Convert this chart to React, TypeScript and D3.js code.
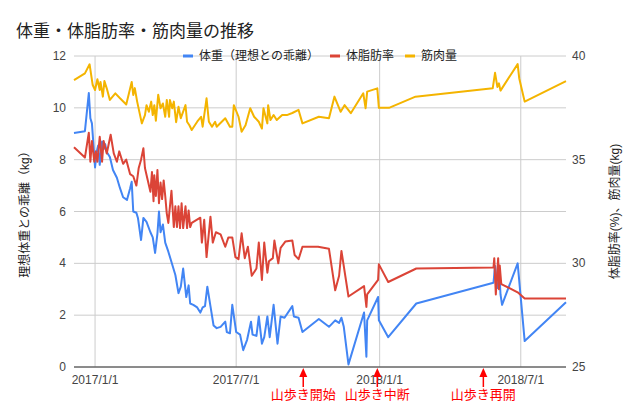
import React from "react";
import * as d3 from "d3";

const title = "体重・体脂肪率・筋肉量の推移";
const seriesNames = ["体重（理想との乖離）", "体脂肪率", "筋肉量"];
const seriesColors = ["#4285F4", "#DB4437", "#F4B400"];
const leftTicks = [0, 2, 4, 6, 8, 10, 12];
const rightLabels = [25, 30, 35, 40];
const xTickDates = ["2017-01-01", "2017-07-01", "2018-01-01", "2018-07-01"];
const xTickLabels = ["2017/1/1", "2017/7/1", "2018/1/1", "2018/7/1"];
const annotationDates = ["2017-09-25", "2017-12-29", "2018-05-14"];
const annotationLabels = ["山歩き開始", "山歩き中断", "山歩き再開"];
const domainStart = "2016-12-05";
const domainEnd = "2018-08-28";

const weightDates = [
  "2016-12-05","2016-12-19","2016-12-24","2016-12-26","2016-12-28","2017-01-01","2017-01-03","2017-01-05","2017-01-07","2017-01-10",
  "2017-01-12","2017-01-14","2017-01-16","2017-01-20","2017-01-24","2017-01-29","2017-02-02","2017-02-06","2017-02-11","2017-02-15",
  "2017-02-17","2017-02-19","2017-02-23","2017-02-25","2017-03-01","2017-03-04","2017-03-08","2017-03-13","2017-03-16","2017-03-19",
  "2017-03-22","2017-03-24","2017-03-26","2017-03-29","2017-04-01","2017-04-05","2017-04-09","2017-04-14","2017-04-18","2017-04-21",
  "2017-04-24","2017-04-28","2017-05-01","2017-05-03","2017-05-07","2017-05-12","2017-05-16","2017-05-19","2017-05-22","2017-05-25",
  "2017-05-29","2017-06-02","2017-06-06","2017-06-11","2017-06-17","2017-06-19","2017-06-23","2017-06-26","2017-07-01","2017-07-06",
  "2017-07-10","2017-07-15","2017-07-20","2017-07-22","2017-07-27","2017-07-30","2017-08-03","2017-08-06","2017-08-10","2017-08-13",
  "2017-08-18","2017-08-23","2017-08-27","2017-09-01","2017-09-11","2017-09-13","2017-09-19","2017-09-24","2017-10-15","2017-10-28",
  "2017-11-05","2017-11-10","2017-11-13","2017-11-16","2017-11-22","2017-12-12","2017-12-15","2017-12-16","2017-12-30","2017-12-31",
  "2018-01-12","2018-02-17","2018-05-27","2018-05-29","2018-06-01","2018-06-04","2018-06-05","2018-06-07","2018-06-27","2018-07-06",
  "2018-08-28"
];
const weightValues = [
  9.03,9.1,10.57,9.6,9.4,7.7,8.3,8.55,7.8,8.7,
  8.4,8.6,8.3,8.1,7.6,7.3,6.9,6.55,6.45,6.9,
  7.15,6.0,5.95,5.75,4.9,5.75,5.6,5.2,5.0,4.4,
  5.15,6.0,5.2,5.5,4.8,4.45,4.05,3.55,2.85,3.1,
  3.8,2.7,3.15,2.45,2.4,2.3,2.1,2.3,2.35,3.1,
  2.35,1.6,1.5,1.55,1.75,1.35,1.3,2.4,1.35,1.25,
  0.65,1.05,1.75,1.25,1.2,1.95,0.9,1.15,1.95,1.15,
  2.4,0.9,1.95,1.9,2.35,1.95,1.9,1.35,1.85,1.55,
  1.8,1.7,1.9,1.55,0.1,2.1,0.4,1.8,2.7,1.8,
  1.15,2.45,3.25,3.9,3.05,3.35,2.8,2.4,4.0,1.0,
  2.5
];

const fatDates = [
  "2016-12-05","2016-12-19","2016-12-24","2016-12-26","2016-12-28","2016-12-31","2017-01-02","2017-01-04","2017-01-07","2017-01-10",
  "2017-01-12","2017-01-14","2017-01-16","2017-01-21","2017-01-25","2017-01-29","2017-02-01","2017-02-06","2017-02-10","2017-02-15",
  "2017-02-19","2017-02-23","2017-02-26","2017-03-01","2017-03-04","2017-03-06","2017-03-09","2017-03-13","2017-03-15","2017-03-17",
  "2017-03-18","2017-03-20","2017-03-22","2017-03-24","2017-03-26","2017-03-28","2017-03-30","2017-04-01","2017-04-03","2017-04-05",
  "2017-04-09","2017-04-12","2017-04-14","2017-04-16","2017-04-18","2017-04-20","2017-04-22","2017-04-24","2017-04-27","2017-04-29",
  "2017-05-01","2017-05-03","2017-05-05","2017-05-16","2017-05-18","2017-05-21","2017-05-24","2017-05-29","2017-06-01","2017-06-05",
  "2017-06-11","2017-06-17","2017-06-21","2017-06-26","2017-06-30","2017-07-04","2017-07-08","2017-07-12","2017-07-16","2017-07-21",
  "2017-07-27","2017-07-30","2017-08-03","2017-08-06","2017-08-10","2017-08-12","2017-08-17","2017-08-19","2017-08-24","2017-08-27",
  "2017-09-02","2017-09-11","2017-09-14","2017-09-19","2017-09-24","2017-10-14","2017-10-28","2017-11-05","2017-11-10","2017-11-13",
  "2017-11-22","2017-12-12","2017-12-15","2017-12-16","2017-12-30","2017-12-31","2018-01-12","2018-02-17","2018-05-27","2018-05-28",
  "2018-05-30","2018-06-02","2018-06-03","2018-06-04","2018-06-06","2018-06-27","2018-07-06","2018-08-28"
];
const fatValues = [
  35.6,35.1,36.3,34.9,35.9,34.9,35.4,34.9,36.1,34.9,
  35.9,35.6,35.3,36.2,35.3,34.9,35.4,34.8,35.0,34.3,
  34.2,33.75,34.6,35.0,35.55,34.6,34.1,33.45,34.4,33.0,
  34.25,33.25,34.5,32.9,33.9,33.1,34.0,33.25,32.4,31.95,
  33.5,31.75,32.75,31.75,32.75,31.7,32.9,31.7,32.75,31.7,
  32.55,31.75,31.95,32.2,31.0,32.1,30.3,32.25,31.0,31.5,
  31.4,30.8,31.25,31.25,30.3,30.2,31.45,30.25,30.8,29.4,
  29.75,31.0,29.2,31.0,29.55,30.1,30.25,31.1,30.0,30.75,
  31.05,31.1,30.4,30.2,30.8,30.8,30.7,28.7,29.4,30.6,
  28.4,28.9,27.9,28.5,29.2,29.95,29.1,29.75,29.8,30.25,
  28.5,30.25,28.75,29.9,29.0,28.6,28.3,28.3
];

const muscleDates = [
  "2016-12-05","2016-12-19","2016-12-25","2016-12-29","2017-01-01","2017-01-04","2017-01-07","2017-01-08","2017-01-11","2017-01-13",
  "2017-01-16","2017-01-20","2017-01-27","2017-02-02","2017-02-10","2017-02-17","2017-02-19","2017-02-21","2017-02-24","2017-03-02",
  "2017-03-06","2017-03-08","2017-03-11","2017-03-14","2017-03-16","2017-03-18","2017-03-20","2017-03-23","2017-03-26","2017-03-29",
  "2017-04-01","2017-04-03","2017-04-06","2017-04-07","2017-04-10","2017-04-12","2017-04-15","2017-04-18","2017-04-21","2017-04-27",
  "2017-04-29","2017-05-02","2017-05-05","2017-05-12","2017-05-17","2017-05-19","2017-05-24","2017-05-27","2017-05-31","2017-06-04",
  "2017-06-06","2017-06-17","2017-06-23","2017-06-26","2017-06-28","2017-07-04","2017-07-08","2017-07-13","2017-07-19","2017-07-24",
  "2017-07-30","2017-08-03","2017-08-05","2017-08-10","2017-08-11","2017-08-14","2017-08-18","2017-08-22","2017-08-29","2017-09-04",
  "2017-09-11","2017-09-19","2017-09-24","2017-10-15","2017-10-28","2017-11-04","2017-11-12","2017-11-17","2017-11-25","2017-12-11",
  "2017-12-14","2017-12-16","2017-12-29","2017-12-31","2018-01-13","2018-02-16","2018-05-26","2018-05-29","2018-06-01","2018-06-03",
  "2018-06-05","2018-06-27","2018-06-29","2018-07-06","2018-08-28"
];
const muscleValues = [
  38.84,39.16,39.6,38.6,38.36,38.88,38.36,38.75,38.04,38.79,
  38.44,37.88,38.2,37.96,37.66,38.75,38.12,38.45,37.8,36.75,
  37.15,37.63,37.31,37.8,37.15,37.63,36.88,38.13,37.48,37.71,
  37.07,37.88,37.07,37.88,37.48,37.8,36.81,37.55,37.0,37.63,
  36.83,36.66,36.43,36.83,37.07,36.59,37.96,36.83,36.59,36.83,
  36.59,37.0,36.59,36.59,37.63,37.07,36.35,36.66,37.48,37.07,
  36.83,36.5,37.48,36.75,37.63,36.91,37.15,36.91,37.15,37.15,
  37.25,37.4,36.75,37.07,37.0,38.04,37.31,37.63,37.24,38.2,
  37.48,38.28,38.44,37.5,37.5,38.04,38.44,39.19,38.51,38.68,
  38.33,39.61,38.93,37.8,38.79
];

const W = 640;
const H = 405;
const PLOT = { left: 74, right: 566, top: 56, bottom: 367 };
const FONT = "'Liberation Sans', Arial, 'Noto Sans CJK JP', sans-serif";

export default function App() {
  const parse = d3.timeParse("%Y-%m-%d");
  const x = d3
    .scaleTime()
    .domain([parse(domainStart)!, parse(domainEnd)!])
    .range([PLOT.left, PLOT.right]);
  const yL = d3.scaleLinear().domain([0, 12]).range([PLOT.bottom, PLOT.top]);
  const yR = d3.scaleLinear().domain([25, 40]).range([PLOT.bottom, PLOT.top]);

  const mk = (dates: string[], vals: number[]) =>
    dates.map((d, i) => ({ date: parse(d)!, v: vals[i] }));
  const weight = mk(weightDates, weightValues);
  const fat = mk(fatDates, fatValues);
  const muscle = mk(muscleDates, muscleValues);

  const lineL = d3
    .line<{ date: Date; v: number }>()
    .x((d) => x(d.date))
    .y((d) => yL(d.v));
  const lineR = d3
    .line<{ date: Date; v: number }>()
    .x((d) => x(d.date))
    .y((d) => yR(d.v));

  const legendStart = 183;
  const charW = 12;
  const legendItems: { x: number; name: string; color: string }[] = [];
  let lx = legendStart;
  seriesNames.forEach((n, i) => {
    legendItems.push({ x: lx, name: n, color: seriesColors[i] });
    lx += 16 + n.length * charW + 11;
  });

  return (
    <svg
      width={W}
      height={H}
      style={{ position: "absolute", left: 0, top: 0, background: "#fff" }}
      fontFamily={FONT}
    >
      <rect x={0} y={0} width={W} height={H} fill="#fff" />
      <text x={16} y={37} fontSize={17} fill="#222">
        {title}
      </text>

      {leftTicks.map((t) => (
        <line
          key={"g" + t}
          x1={PLOT.left}
          x2={PLOT.right}
          y1={yL(t)}
          y2={yL(t)}
          stroke="#cccccc"
          strokeWidth={1}
        />
      ))}
      {xTickDates.map((d) => (
        <line
          key={"v" + d}
          x1={x(parse(d)!)}
          x2={x(parse(d)!)}
          y1={PLOT.top}
          y2={PLOT.bottom}
          stroke="#cccccc"
          strokeWidth={1}
        />
      ))}

      {leftTicks.map((t) => (
        <text
          key={"lt" + t}
          x={66}
          y={yL(t)}
          fontSize={12}
          fill="#444"
          textAnchor="end"
          dominantBaseline="central"
        >
          {t}
        </text>
      ))}
      {rightLabels.map((t) => (
        <text
          key={"rt" + t}
          x={572}
          y={yR(t)}
          fontSize={12}
          fill="#444"
          dominantBaseline="central"
        >
          {t}
        </text>
      ))}
      {xTickDates.map((d, i) => (
        <text
          key={"xt" + d}
          x={x(parse(d)!)}
          y={384}
          fontSize={12}
          fill="#444"
          textAnchor="middle"
        >
          {xTickLabels[i]}
        </text>
      ))}

      <text
        transform={`translate(25,${(PLOT.top + PLOT.bottom) / 2}) rotate(-90)`}
        fontSize={12}
        fill="#222"
        textAnchor="middle"
        dominantBaseline="central"
      >
        理想体重との乖離（kg）
      </text>
      <text
        transform={`translate(615,${(PLOT.top + PLOT.bottom) / 2}) rotate(-90)`}
        fontSize={12}
        fill="#222"
        textAnchor="middle"
        dominantBaseline="central"
      >
        体脂肪率(%)、筋肉量(kg)
      </text>

      <path d={lineL(weight) || ""} fill="none" stroke={seriesColors[0]} strokeWidth={2} strokeLinejoin="round" />
      <path d={lineR(fat) || ""} fill="none" stroke={seriesColors[1]} strokeWidth={2} strokeLinejoin="round" />
      <path d={lineR(muscle) || ""} fill="none" stroke={seriesColors[2]} strokeWidth={2} strokeLinejoin="round" />

      <line x1={PLOT.left} x2={PLOT.right} y1={PLOT.bottom} y2={PLOT.bottom} stroke="#333" strokeWidth={1} />

      {legendItems.map((it) => (
        <g key={it.name}>
          <rect x={it.x} y={PLOT.top - 1.5} width={10} height={3} fill={it.color} />
          <text x={it.x + 16} y={PLOT.top} fontSize={12} fill="#222" dominantBaseline="central">
            {it.name}
          </text>
        </g>
      ))}

      {annotationDates.map((d, i) => {
        const ax = x(parse(d)!);
        return (
          <g key={"an" + d}>
            <line x1={ax} x2={ax} y1={375} y2={387} stroke="#ff0000" strokeWidth={1.5} />
            <path d={`M${ax},368 L${ax - 4},377 L${ax + 4},377 Z`} fill="#ff0000" />
            <text x={ax} y={399} fontSize={13} fill="#ff0000" textAnchor="middle">
              {annotationLabels[i]}
            </text>
          </g>
        );
      })}
    </svg>
  );
}
